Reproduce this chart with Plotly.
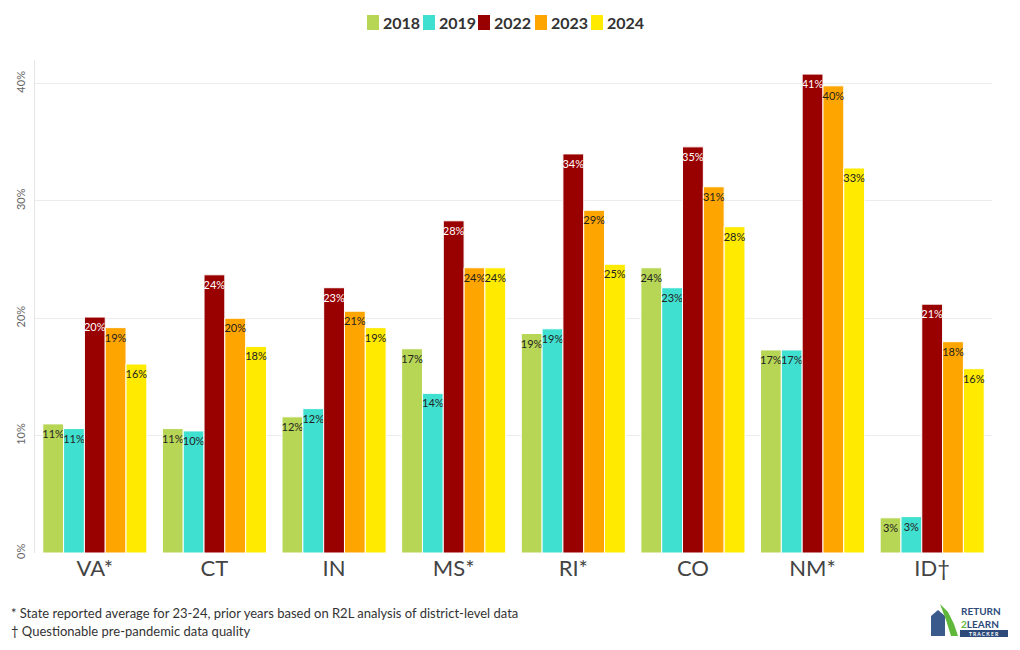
import plotly.graph_objects as go

states = ["VA*", "CT", "IN", "MS*", "RI*", "CO", "NM*", "ID†"]
years = ["2018", "2019", "2022", "2023", "2024"]
v2018 = [11.0, 10.6, 11.6, 17.4, 18.7, 24.3, 17.3, 3.0]
v2019 = [10.6, 10.4, 12.3, 13.6, 19.1, 22.6, 17.3, 3.1]
v2022 = [20.1, 23.7, 22.6, 28.3, 34.0, 34.6, 40.8, 21.2]
v2023 = [19.2, 20.0, 20.6, 24.3, 29.2, 31.2, 39.8, 18.0]
v2024 = [16.1, 17.6, 19.2, 24.3, 24.6, 27.8, 32.8, 15.7]
series = [v2018, v2019, v2022, v2023, v2024]
colors = ["#b8d656", "#40e0d0", "#990000", "#ffa500", "#ffea00"]
text_colors = ["#222222", "#222222", "#ffffff", "#222222", "#222222"]

FONT = "Source Sans Pro, Lato, Noto Sans, sans-serif"

W, H = 1020, 650
L, R, T, B = 27, 36, 52, 105
OFF = 8  # page body margin
PW, PH = W - L - R, H - T - B


def px(X):
    return (X - OFF - L) / PW


def py(Y):
    return ((H - B) - (Y - OFF)) / PH


fig = go.Figure()
for yr, vals, c, tc in zip(years, series, colors, text_colors):
    fig.add_trace(go.Bar(
        name=yr, x=states, y=vals,
        marker=dict(color=c, line=dict(color="#ffffff", width=1)),
        text=[f"{round(v):.0f}%" for v in vals],
        textposition="inside", insidetextanchor="end",
        textangle=0,
        textfont=dict(color=tc, size=11, family=FONT),
        constraintext="none",
        showlegend=False,
        hovertemplate="%{x} " + yr + ": %{y:.1f}%<extra></extra>",
    ))

fig.update_layout(
    width=W, height=H,
    barmode="group", bargap=0.13, bargroupgap=0,
    plot_bgcolor="white", paper_bgcolor="white",
    margin=dict(l=L, r=R, t=T, b=B, autoexpand=False),
    font=dict(family=FONT, color="#333333"),
    uniformtext=dict(minsize=11, mode="show"),
    xaxis=dict(tickfont=dict(size=22, color="#444444"), showline=False,
               ticks="", showgrid=False),
    yaxis=dict(range=[0, 42], ticksuffix="%", dtick=10, tickangle=-90,
               tickfont=dict(size=11, color="#666666"), ticklabelstandoff=5,
               gridcolor="#ececec", showline=True, linecolor="#e6e6e6",
               zeroline=False),
)

# legend (horizontal, top centre)
leg_x = [367, 423, 478, 535, 591]
for yr, c, lx in zip(years, colors, leg_x):
    fig.add_shape(type="rect", xref="paper", yref="paper",
                  x0=px(lx), x1=px(lx + 12), y0=py(30), y1=py(15),
                  fillcolor=c, line=dict(width=0))
    fig.add_annotation(text=f"<b>{yr}</b>", xref="paper", yref="paper",
                       x=px(lx + 14), y=py(22.5), xanchor="left", yanchor="middle",
                       showarrow=False, font=dict(size=16, color="#333333", family=FONT))

fig.add_annotation(text="* State reported average for 23-24, prior years based on R2L analysis of district-level data",
                   xref="paper", yref="paper", x=px(9), y=py(613), xanchor="left", yanchor="middle",
                   showarrow=False, font=dict(size=13, color="#333333", family=FONT))
fig.add_annotation(text="† Questionable pre-pandemic data quality",
                   xref="paper", yref="paper", x=px(9), y=py(631), xanchor="left", yanchor="middle",
                   showarrow=False, font=dict(size=13, color="#333333", family=FONT))

# logo approximation (decorative)
fig.add_shape(type="path", xref="paper", yref="paper",
              path=f"M {px(931)} {py(636)} L {px(931)} {py(616)} L {px(938)} {py(610)} "
                   f"L {px(945)} {py(616)} L {px(945)} {py(636)} Z",
              fillcolor="#3a5a8c", line=dict(width=0))
fig.add_shape(type="path", xref="paper", yref="paper",
              path=f"M {px(940)} {py(604)} L {px(948)} {py(612)} L {px(954)} {py(624)} "
                   f"L {px(958)} {py(636)} L {px(951)} {py(636)} L {px(946)} {py(620)} Z",
              fillcolor="#5fb83a", line=dict(width=0))
fig.add_shape(type="rect", xref="paper", yref="paper",
              x0=px(960), x1=px(1008), y0=py(637), y1=py(630),
              fillcolor="#2d4a7a", line=dict(width=0))
fig.add_annotation(text="<b>RETURN</b><br><b><span style='color:#5fb83a'>2</span>LEARN</b>",
                   xref="paper", yref="paper", x=px(959), y=py(617.5),
                   xanchor="left", yanchor="middle", showarrow=False, align="left",
                   font=dict(size=10, color="#2d4a7a", family=FONT))
fig.add_annotation(text="<b>T R A C K E R</b>", xref="paper", yref="paper", x=px(984), y=py(633.5),
                   xanchor="center", yanchor="middle", showarrow=False,
                   borderpad=0, font=dict(size=5, color="#ffffff", family=FONT))

fig.write_html("out.html")
